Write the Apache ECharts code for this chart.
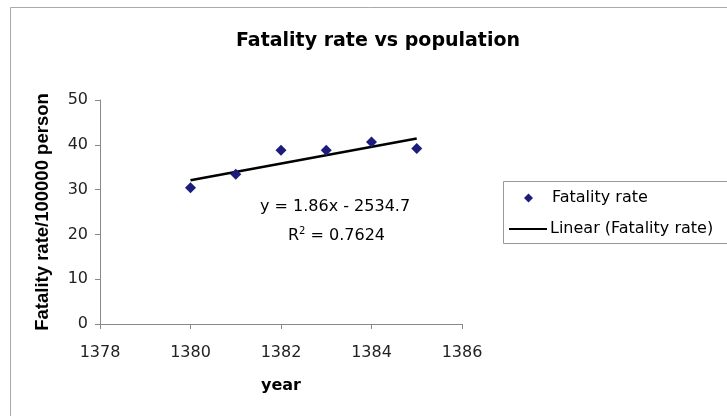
<!DOCTYPE html>
<html>
<head>
<meta charset="utf-8">
<script src="https://cdn.jsdelivr.net/npm/echarts@6/dist/echarts.min.js"></script>
<style>html,body{margin:0;padding:0;background:#fff;}#c{width:727px;height:416px;}</style>
</head>
<body>
<div id="c"></div>
<script>
const years = [1380, 1381, 1382, 1383, 1384, 1385];
const fatalityRate = [30.4, 33.4, 38.8, 38.8, 40.6, 39.2];
const trendYears = [1380, 1385];
const trendValues = [32.1, 41.4];
const xTicks = [1378, 1380, 1382, 1384, 1386];
const yTicks = [0, 10, 20, 30, 40, 50];

const font = '"DejaVu Sans", "Liberation Sans", Arial, sans-serif';
const boldFont = '"Liberation Sans", Arial, sans-serif';
const chart = echarts.init(document.getElementById('c'));
chart.setOption({
  backgroundColor: '#fff',
  animation: false,
  title: {
    text: 'Fatality rate vs population',
    left: 373, top: 27, textAlign: 'center',
    textStyle: { fontFamily: font, fontSize: 19, fontWeight: 'bold', color: '#000' }
  },
  grid: { left: 100, right: 265, top: 100, bottom: 92 },
  xAxis: {
    type: 'value', min: xTicks[0], max: xTicks[xTicks.length - 1], interval: 2,
    name: 'year', nameLocation: 'middle', nameGap: 54,
    nameTextStyle: { fontFamily: font, fontSize: 16, fontWeight: 'bold', color: '#000' },
    axisLine: { show: true, lineStyle: { color: '#888', width: 1 } },
    axisTick: { show: true, length: 5, lineStyle: { color: '#888' } },
    axisLabel: { fontFamily: font, fontSize: 16, color: '#222', margin: 21, formatter: v => String(v) },
    splitLine: { show: false }
  },
  yAxis: {
    type: 'value', min: yTicks[0], max: yTicks[yTicks.length - 1], interval: 10,
    name: 'Fatality rate/100000 person', nameLocation: 'middle', nameGap: 48,
    nameTextStyle: { fontFamily: boldFont, fontSize: 18.5, fontWeight: 'bold', color: '#000' },
    axisLine: { show: true, lineStyle: { color: '#888', width: 1 } },
    axisTick: { show: true, length: 5, lineStyle: { color: '#888' } },
    axisLabel: { fontFamily: font, fontSize: 16, color: '#222', margin: 12 },
    splitLine: { show: false }
  },
  legend: [
    {
      data: [{ name: 'Fatality rate', icon: 'diamond' }],
      left: 524, top: 190, itemWidth: 9, itemHeight: 9, padding: 0,
      textStyle: { fontFamily: font, fontSize: 16, color: '#000', padding: [0, 0, 0, 14] }
    },
    {
      data: [{ name: 'Linear (Fatality rate)', icon: 'rect' }],
      left: 509, top: 221, itemWidth: 38, itemHeight: 2, itemGap: 0, padding: 0,
      textStyle: { fontFamily: font, fontSize: 16, color: '#000', padding: [0, 0, 0, -2] }
    }
  ],
  graphic: [
    { type: 'rect', shape: { x: 10.5, y: 7.5, width: 800, height: 500 }, style: { fill: 'none', stroke: '#aaa', lineWidth: 1 }, silent: true, z: -1 },
    { type: 'rect', shape: { x: 503.5, y: 181.5, width: 300, height: 62 }, style: { fill: 'none', stroke: '#999', lineWidth: 1 }, silent: true },
    {
      type: 'text', left: 260, top: 199,
      style: { text: 'y = 1.86x - 2534.7', font: '16px "DejaVu Sans", sans-serif', fill: '#000' }
    },
    {
      type: 'text', left: 288, top: 226,
      style: {
        text: '{a|R}{s|2}{a| = 0.7624}',
        rich: {
          a: { fontFamily: font, fontSize: 16, color: '#000', verticalAlign: 'bottom' },
          s: { fontFamily: font, fontSize: 10, color: '#000', verticalAlign: 'top', padding: [0, 0, 8, 0] }
        }
      }
    }
  ],
  series: [
    {
      name: 'Fatality rate', type: 'scatter', symbol: 'diamond', symbolSize: 11,
      itemStyle: { color: '#1c1c7c', opacity: 1 },
      data: years.map((y, i) => [y, fatalityRate[i]]), z: 3
    },
    {
      name: 'Linear (Fatality rate)', type: 'line', symbol: 'none', showSymbol: false,
      lineStyle: { color: '#000', width: 2.5 }, itemStyle: { color: '#000' },
      data: trendYears.map((y, i) => [y, trendValues[i]]), z: 2
    }
  ]
});
</script>
</body>
</html>
